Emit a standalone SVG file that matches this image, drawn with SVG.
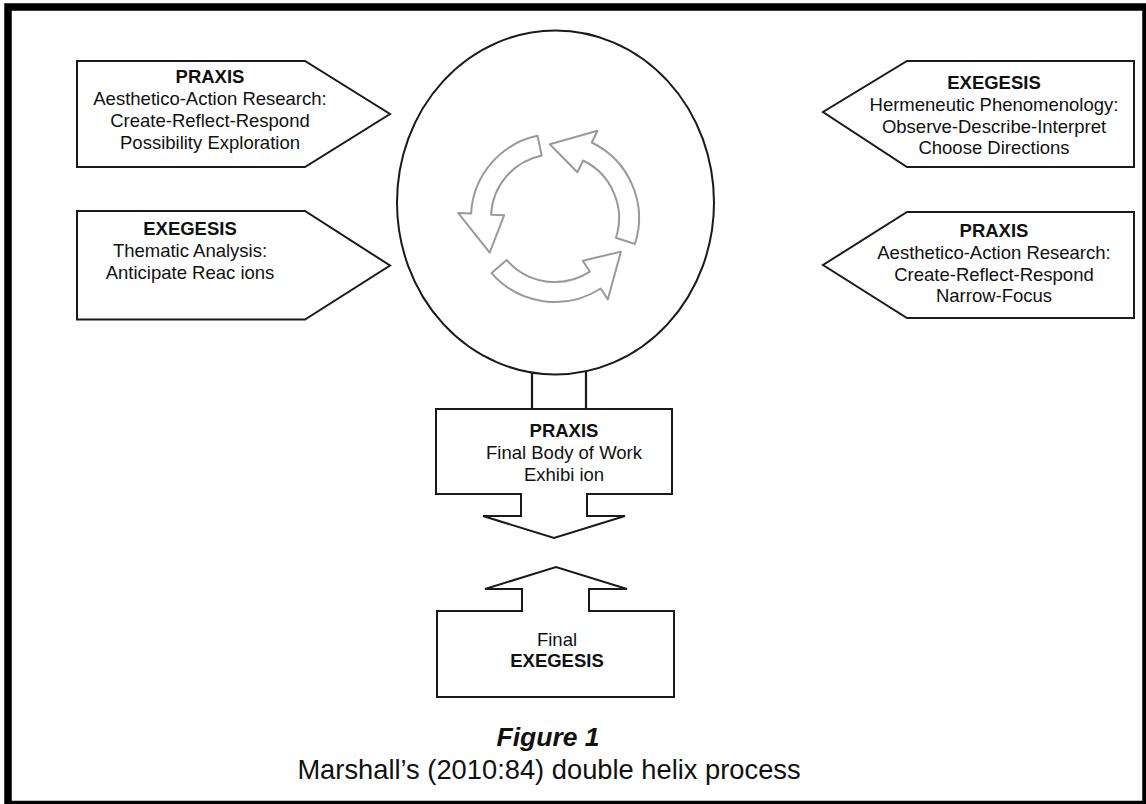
<svg xmlns="http://www.w3.org/2000/svg" width="1146" height="804" viewBox="0 0 1146 804">
<style>
.box{fill:#fff;stroke:#1a1a1a;stroke-width:2;stroke-linejoin:miter}
.t{font-family:"Liberation Sans",Arial,sans-serif;font-size:18.5px;fill:#111;text-anchor:middle}
.b{font-weight:bold}
.cyc{fill:#fff;stroke:#9a9a9a;stroke-width:2;stroke-linejoin:round}
.conn{stroke:#1a1a1a;stroke-width:2.2;fill:none}
</style>
<rect x="0" y="0" width="1146" height="804" fill="#fff"/>
<rect id="frame" x="8" y="7" width="1138" height="797.5" fill="none" stroke="#000" stroke-width="7.5"/>

<g id="connectors">
<line class="conn" x1="532" y1="372" x2="532" y2="409"/>
<line class="conn" x1="586" y1="372" x2="586" y2="409"/>
</g>

<g id="cycle">
<ellipse cx="555.5" cy="202.5" rx="158.5" ry="172" fill="#fff" stroke="#1a1a1a" stroke-width="2"/>
<path class="cyc" d="M537.5 135.8 A84 84 0 0 0 471.1 213.6 L458.1 212.9 L489.7 252.7 L504.1 215.3 L491.1 214.7 A64 64 0 0 1 541.7 155.4 Z"/>
<path class="cyc" d="M634.9 244 A84 84 0 0 0 591.8 142.5 L597.5 130.8 L549.8 144.2 L577.4 172.2 L583.1 160.5 A64 64 0 0 1 615.9 237.8 Z"/>
<path class="cyc" d="M491.6 273.1 A84 84 0 0 0 600.7 288.5 L607.8 299.4 L620.9 251.6 L582.8 260.8 L589.9 271.7 A64 64 0 0 1 506.7 260 Z"/>
</g>

<g id="praxis-left">
<polygon class="box" points="77,61 305,61 390,114 305,167 77,167"/>
<text class="t b" x="210" y="83">PRAXIS</text>
<text class="t" x="210" y="105">Aesthetico-Action Research:</text>
<text class="t" x="210" y="127">Create-Reflect-Respond</text>
<text class="t" x="210" y="149">Possibility Exploration</text>
</g>

<g id="exegesis-left">
<polygon class="box" points="77,211 305,211 390,265.5 305,319.5 77,319.5"/>
<text class="t b" x="190" y="235">EXEGESIS</text>
<text class="t" x="190" y="257">Thematic Analysis:</text>
<text class="t" x="190" y="279">Anticipate Reac ions</text>
</g>

<g id="exegesis-right">
<polygon class="box" points="1134,61 907,61 823,112 907,167 1134,167"/>
<text class="t b" x="994" y="89">EXEGESIS</text>
<text class="t" x="994" y="111">Hermeneutic Phenomenology:</text>
<text class="t" x="994" y="133">Observe-Describe-Interpret</text>
<text class="t" x="994" y="154">Choose Directions</text>
</g>

<g id="praxis-right">
<polygon class="box" points="1134,212 907,212 823,265 907,318 1134,318"/>
<text class="t b" x="994" y="237">PRAXIS</text>
<text class="t" x="994" y="259">Aesthetico-Action Research:</text>
<text class="t" x="994" y="281">Create-Reflect-Respond</text>
<text class="t" x="994" y="302">Narrow-Focus</text>
</g>

<g id="praxis-final">
<polygon class="box" points="436,409 672,409 672,494 587,494 587,516 625,516 554,538 483,516 521,516 521,494 436,494"/>
<text class="t b" x="564" y="437">PRAXIS</text>
<text class="t" x="564" y="459">Final Body of Work</text>
<text class="t" x="564" y="481">Exhibi ion</text>
</g>

<g id="exegesis-final">
<polygon class="box" points="437,611 522,611 522,589 485,589 556,567 627,589 589,589 589,611 674,611 674,697 437,697"/>
<text class="t" x="557" y="646">Final</text>
<text class="t b" x="557" y="667">EXEGESIS</text>
</g>

<g id="caption">
<text x="548" y="746" style="font-family:'Liberation Sans',Arial,sans-serif;font-size:26.5px;font-weight:bold;font-style:italic;fill:#111;text-anchor:middle">Figure 1</text>
<text x="549" y="779" style="font-family:'Liberation Sans',Arial,sans-serif;font-size:27.3px;fill:#111;text-anchor:middle">Marshall’s (2010:84) double helix process</text>
</g>
</svg>
